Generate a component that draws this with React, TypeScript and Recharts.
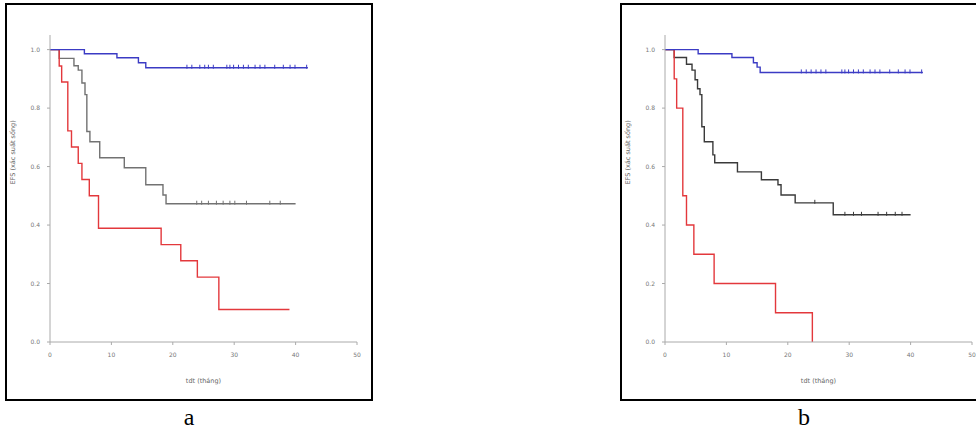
import React from 'react';
import { ComposedChart, Line, Scatter, XAxis, YAxis } from 'recharts';

type Pt = { t: number; s: number };

// panel a curves (time in months, survival probability)
const blueA: Pt[] = [
  { t: 0, s: 1 }, { t: 5.6, s: 0.986 }, { t: 10.9, s: 0.972 }, { t: 14.4, s: 0.955 },
  { t: 15.6, s: 0.938 }, { t: 42, s: 0.938 },
];
const grayA: Pt[] = [
  { t: 0, s: 1 }, { t: 1.5, s: 0.97 }, { t: 3.9, s: 0.945 }, { t: 4.6, s: 0.93 },
  { t: 5.2, s: 0.886 }, { t: 5.7, s: 0.846 }, { t: 6, s: 0.72 }, { t: 6.5, s: 0.685 },
  { t: 8.1, s: 0.63 }, { t: 12.1, s: 0.596 }, { t: 15.6, s: 0.538 }, { t: 18.4, s: 0.503 },
  { t: 18.9, s: 0.473 }, { t: 40, s: 0.473 },
];
const redA: Pt[] = [
  { t: 0, s: 1 }, { t: 1.5, s: 0.944 }, { t: 1.9, s: 0.889 }, { t: 2.9, s: 0.722 },
  { t: 3.5, s: 0.667 }, { t: 4.6, s: 0.611 }, { t: 5.2, s: 0.556 }, { t: 6.4, s: 0.5 },
  { t: 7.9, s: 0.389 }, { t: 18.1, s: 0.333 }, { t: 21.3, s: 0.278 }, { t: 24, s: 0.222 },
  { t: 27.5, s: 0.111 }, { t: 39, s: 0.111 },
];
const blueCensorA = [22.3, 23.1, 24.4, 25.2, 25.8, 26.6, 28.8, 29.3, 29.9, 30.7, 31.5, 32.3, 33.4, 34.2, 35, 36.6, 38, 39.1, 39.9, 41.8];
const grayCensorA = [23.9, 24.7, 25.8, 27.1, 28.2, 29.3, 30.1, 32, 35.8, 37.5];

// panel b curves
const blueB: Pt[] = [
  { t: 0, s: 1 }, { t: 5.4, s: 0.986 }, { t: 10.9, s: 0.973 }, { t: 14.4, s: 0.955 },
  { t: 15, s: 0.94 }, { t: 15.5, s: 0.922 }, { t: 42, s: 0.922 },
];
const grayB: Pt[] = [
  { t: 0, s: 1 }, { t: 1.5, s: 0.973 }, { t: 3.5, s: 0.95 }, { t: 4.4, s: 0.93 },
  { t: 4.9, s: 0.897 }, { t: 5.3, s: 0.866 }, { t: 5.7, s: 0.846 }, { t: 6, s: 0.736 },
  { t: 6.4, s: 0.685 }, { t: 7.8, s: 0.64 }, { t: 8.1, s: 0.613 }, { t: 11.8, s: 0.582 },
  { t: 15.7, s: 0.555 }, { t: 18.4, s: 0.538 }, { t: 18.9, s: 0.503 }, { t: 21.2, s: 0.476 },
  { t: 27.4, s: 0.435 }, { t: 40, s: 0.435 },
];
const redB: Pt[] = [
  { t: 0, s: 1 }, { t: 1.5, s: 0.9 }, { t: 1.9, s: 0.8 }, { t: 2.9, s: 0.5 },
  { t: 3.5, s: 0.4 }, { t: 4.7, s: 0.3 }, { t: 8, s: 0.2 }, { t: 18, s: 0.1 }, { t: 24, s: 0 },
];
const blueCensorB = [22.2, 23.0, 23.8, 24.6, 25.4, 26.2, 28.8, 29.3, 29.9, 30.7, 31.5, 32.3, 33.4, 34.2, 35, 36.6, 38, 39.1, 39.9, 41.8];
const grayCensorB = [24.4, 29.3, 30.7, 32, 34.7, 36.1, 37.5, 38.6];

const xTicks = [0, 10, 20, 30, 40, 50];
const yTicks = [0, 0.2, 0.4, 0.6, 0.8, 1.0];

const BLUE = '#3b3bc4';
const RED = '#e3383c';

// level of a step curve at time t
const levelAt = (curve: Pt[], t: number) => {
  let s = curve[0].s;
  for (const p of curve) if (p.t <= t) s = p.s;
  return s;
};
const censorPts = (curve: Pt[], times: number[]) => times.map((t) => ({ t, s: levelAt(curve, t) }));

const tick = (color: string) => (props: any) => {
  const { cx, cy } = props;
  return <line x1={cx} x2={cx} y1={cy - 3} y2={cy + 1} stroke={color} strokeWidth={1} />;
};

const axisTick = { fontSize: 6, fill: '#777', fontFamily: 'DejaVu Sans' };

interface PanelProps {
  left: number;
  blue: Pt[];
  gray: Pt[];
  red: Pt[];
  blueCensor: number[];
  grayCensor: number[];
  grayColor: string;
  letter: string;
}

const Panel = ({ left, blue, gray, red, blueCensor, grayCensor, grayColor, letter }: PanelProps) => (
  <>
    <div
      style={{
        position: 'absolute',
        left,
        top: 3,
        width: 364,
        height: 394,
        border: '2px solid #000',
        background: '#fff',
      }}
    >
      <ComposedChart width={364} height={394} margin={{ top: 30, right: 14, left: 0, bottom: 0 }}>
        <XAxis
          type="number"
          dataKey="t"
          domain={[0, 50]}
          ticks={xTicks}
          height={57}
          stroke="#aaa"
          tickSize={3}
          tickMargin={8}
          tick={axisTick}
          label={{ value: 'tdt (tháng)', position: 'insideBottom', offset: 16, fontSize: 6.5, fill: '#666', fontFamily: 'DejaVu Sans' }}
        />
        <YAxis
          type="number"
          dataKey="s"
          domain={[0, 1.05]}
          ticks={yTicks}
          width={43}
          stroke="#aaa"
          tickSize={3}
          tickMargin={7}
          tick={axisTick}
          tickFormatter={(v: number) => v.toFixed(1)}
          label={{ value: 'EFS (xác suất sống)', angle: -90, position: 'insideLeft', offset: 6, dy: -4, fontSize: 6.5, fill: '#666', fontFamily: 'DejaVu Sans' }}
        />
        <Line data={gray} dataKey="s" type="stepAfter" stroke={grayColor} strokeWidth={1.4} dot={false} isAnimationActive={false} />
        <Line data={red} dataKey="s" type="stepAfter" stroke={RED} strokeWidth={1.4} dot={false} isAnimationActive={false} />
        <Line data={blue} dataKey="s" type="stepAfter" stroke={BLUE} strokeWidth={1.4} dot={false} isAnimationActive={false} />
        <Scatter data={censorPts(gray, grayCensor)} dataKey="s" shape={tick(grayColor)} isAnimationActive={false} />
        <Scatter data={censorPts(blue, blueCensor)} dataKey="s" shape={tick(BLUE)} isAnimationActive={false} />
      </ComposedChart>
    </div>
    <div
      style={{
        position: 'absolute',
        left: left + 134,
        width: 100,
        top: 400,
        textAlign: 'center',
        fontFamily: '"Liberation Serif", serif',
        fontSize: 24,
        lineHeight: '34px',
      }}
    >
      {letter}
    </div>
  </>
);

export default function App() {
  return (
    <div style={{ position: 'absolute', left: 0, top: 0, width: 976, height: 434, overflow: 'hidden', background: '#fff' }}>
      <Panel left={5} blue={blueA} gray={grayA} red={redA} blueCensor={blueCensorA} grayCensor={grayCensorA} grayColor="#727272" letter="a" />
      <Panel left={620} blue={blueB} gray={grayB} red={redB} blueCensor={blueCensorB} grayCensor={grayCensorB} grayColor="#3a3a3a" letter="b" />
    </div>
  );
}
